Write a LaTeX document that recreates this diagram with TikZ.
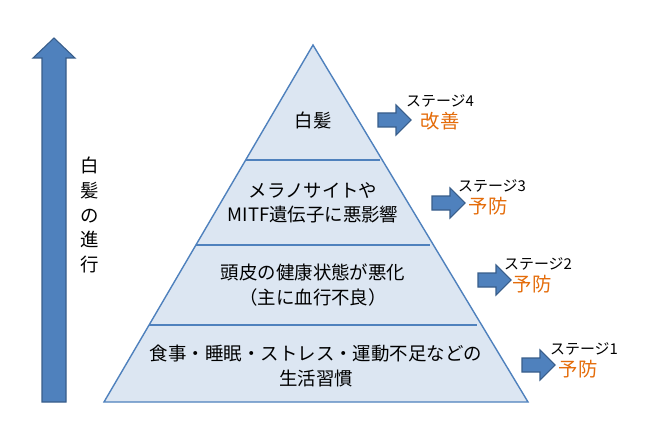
\documentclass[tikz,border=0pt]{standalone}
\usepackage{fontspec}
\setmainfont{Noto Sans CJK JP}
\begin{document}
\begin{tikzpicture}[x=0.02cm,y=-0.02cm,
  lay/.style={fill=fillb,draw=edgeb,line width=0.8pt},
  arr/.style={fill=arrb,draw=arrd,line width=0.6pt},
  txt/.style={font=\fontsize{10.5}{14}\selectfont,align=center},
  stg/.style={font=\fontsize{8.5}{10}\selectfont},
  org/.style={font=\fontsize{11}{13}\selectfont,text=orangec}]
\definecolor{fillb}{HTML}{DCE6F2}
\definecolor{edgeb}{HTML}{4F81BD}
\definecolor{arrb}{HTML}{4F81BD}
\definecolor{arrd}{HTML}{385D8A}
\definecolor{orangec}{HTML}{E46C0A}
\useasboundingbox (0,0) rectangle (655,442);
\coordinate (A) at (313,45); \coordinate (BL) at (104,402); \coordinate (BR) at (528,402);
\draw[lay] (A) -- (BL) -- (BR) -- cycle;
\foreach \y in {160,245,325}{
  \pgfmathsetmacro\dx{(\y-45)/357*209}
  \draw[edgeb,line width=0.8pt] (313-\dx,\y) -- (313+\dx,\y);}
\node[txt] (t4) at (313,120) {白髪};
\node[txt] (t3) at (313,203) {メラノサイトや\\MITF遺伝子に悪影響};
\node[txt] (t2) at (313,285) {頭皮の健康状態が悪化\\（主に血行不良）};
\node[txt] (t1) at (316,366) {食事・睡眠・ストレス・運動不足などの\\生活習慣};
% left arrow
\draw[arr] (42,402) -- (42,58) -- (33,58) -- (54,38) -- (75,58) -- (66,58) -- (66,402) -- cycle;
\node[txt,align=center,inner sep=0pt] (v) at (90,215) {白\\髪\\の\\進\\行};
% right arrows
\foreach \x/\y/\n in {378/120/4,432/203/3,478/280/2,522/365/1}{
  \draw[arr] (\x,\y-7) -- (\x+18,\y-7) -- (\x+18,\y-15) -- (\x+33,\y) -- (\x+18,\y+15) -- (\x+18,\y+7) -- (\x,\y+7) -- cycle;}
\node[stg] (s4) at (440,101) {ステージ4};
\node[org] (o4) at (440,121) {改善};
\node[stg] (s3) at (492,186) {ステージ3};
\node[org] (o3) at (488,206) {予防};
\node[stg] (s2) at (538,264) {ステージ2};
\node[org] (o2) at (532,284) {予防};
\node[stg] (s1) at (584,349) {ステージ1};
\node[org] (o1) at (578,369) {予防};
\end{tikzpicture}
\end{document}
